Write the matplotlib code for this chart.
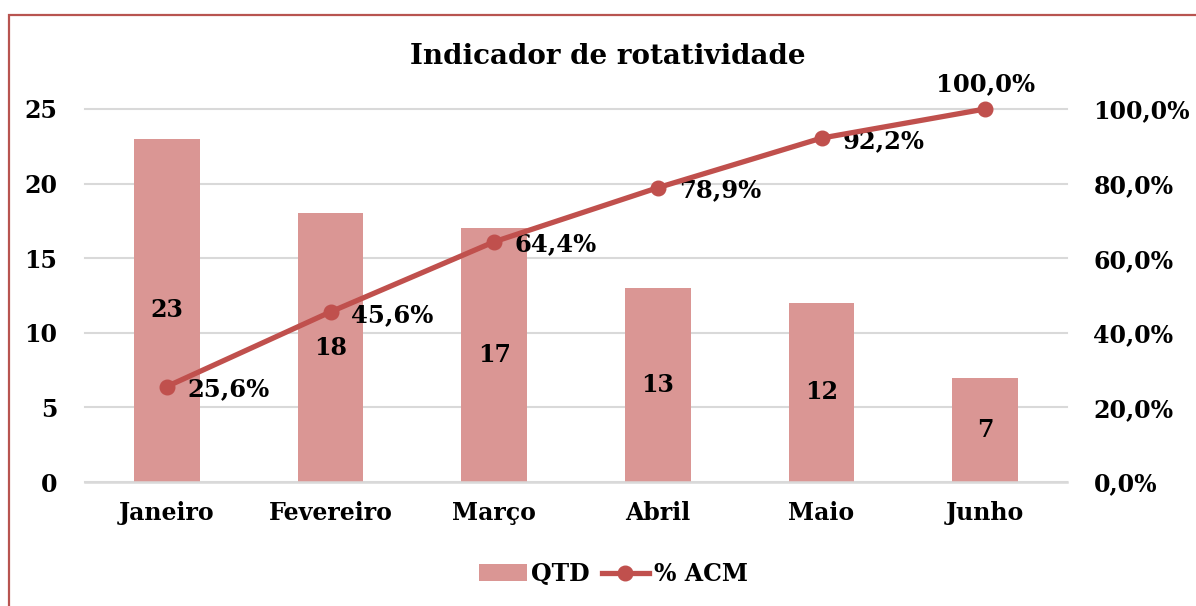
import matplotlib
matplotlib.use('Agg')
import matplotlib.pyplot as plt
from matplotlib.patches import Rectangle
from matplotlib.lines import Line2D
from matplotlib.patches import Patch

# ── data ─────────────────────────────────────────────────────────────────────
meses = ['Janeiro', 'Fevereiro', 'Março', 'Abril', 'Maio', 'Junho']
qtd = [23, 18, 17, 13, 12, 7]
pct_acm = [25.6, 45.6, 64.4, 78.9, 92.2, 100.0]
yticks_left = [0, 5, 10, 15, 20, 25]
yticks_right = [0, 20, 40, 60, 80, 100]

BAR_C = '#DA9694'
LINE_C = '#C0504D'
GRID_C = '#D9D9D9'
FONT = 'DejaVu Serif'
FS = 17

plt.rcParams['font.family'] = FONT
plt.rcParams['font.weight'] = 'bold'

fig = plt.figure(figsize=(11.96, 6.06), dpi=100)
ax = fig.add_axes([85 / 1196, 1 - 482 / 606, 982 / 1196, 373 / 606])
ax2 = ax.twinx()

x = list(range(len(meses)))
ax.bar(x, qtd, width=0.40, color=BAR_C, zorder=2)
for xi, v in zip(x, qtd):
    ax.text(xi, v / 2, f'{v}', ha='center', va='center', fontsize=FS,
            fontweight='bold', zorder=3)

ax.set_xlim(-0.5, len(meses) - 0.5)
ax.set_ylim(0, 25)
ax.set_yticks(yticks_left)
ax.set_xticks(x)
ax.set_xticklabels(meses, fontsize=FS, fontweight='bold')
ax.tick_params(axis='x', length=0, pad=14)
ax.tick_params(axis='y', length=0, pad=20, labelsize=FS)
ax.grid(axis='y', color=GRID_C, linewidth=1.5, zorder=0)
for gl in ax.get_ygridlines():
    gl.set_clip_on(False)
ax.set_axisbelow(True)
for s in ['top', 'right', 'left']:
    ax.spines[s].set_visible(False)
ax.spines['bottom'].set_color(GRID_C)
ax.spines['bottom'].set_linewidth(1.8)

# ── cumulative % line ────────────────────────────────────────────────────────
ax2.plot(x, pct_acm, color=LINE_C, linewidth=3.8, marker='o',
         markersize=10.5, zorder=4, clip_on=False)
ax2.set_ylim(0, 100)
ax2.set_yticks(yticks_right)
ax2.set_yticklabels([f'{v:.1f}%'.replace('.', ',') for v in yticks_right])
ax2.tick_params(axis='y', length=0, pad=19, labelsize=FS)
for s in ax2.spines.values():
    s.set_visible(False)

for i, (xi, v) in enumerate(zip(x, pct_acm)):
    lbl = f'{v:.1f}%'.replace('.', ',')
    if i == len(x) - 1:
        ax2.annotate(lbl, xy=(xi, v), xytext=(0, 9), textcoords='offset points',
                     ha='center', va='bottom', fontsize=17.5, fontweight='bold')
    else:
        ax2.annotate(lbl, xy=(xi, v), xytext=(15, -2), textcoords='offset points',
                     ha='left', va='center', fontsize=17.5, fontweight='bold')

fig.text(0.508, 1 - 57 / 606, 'Indicador de rotatividade', ha='center',
         va='center', fontsize=20, fontweight='bold')

handles = [Patch(facecolor=BAR_C, edgecolor='none'),
           Line2D([0], [0], color=LINE_C, linewidth=3.8, marker='o', markersize=10.5)]
fig.legend(handles, ['QTD', '% ACM'], loc='center',
           bbox_to_anchor=(0.513, 1 - 574 / 606), ncol=2, frameon=False,
           fontsize=FS, handlelength=2.0, columnspacing=0.5, handletextpad=0.2)

# outer chart frame (partially cut off at right and bottom)
fig.patches.append(Rectangle((9 / 1196, -0.1), 1.2, 1 - 15 / 606 + 0.1,
                             transform=fig.transFigure, fill=False,
                             edgecolor='#B85450', linewidth=1.6))

fig.savefig('out.png', dpi=100)
